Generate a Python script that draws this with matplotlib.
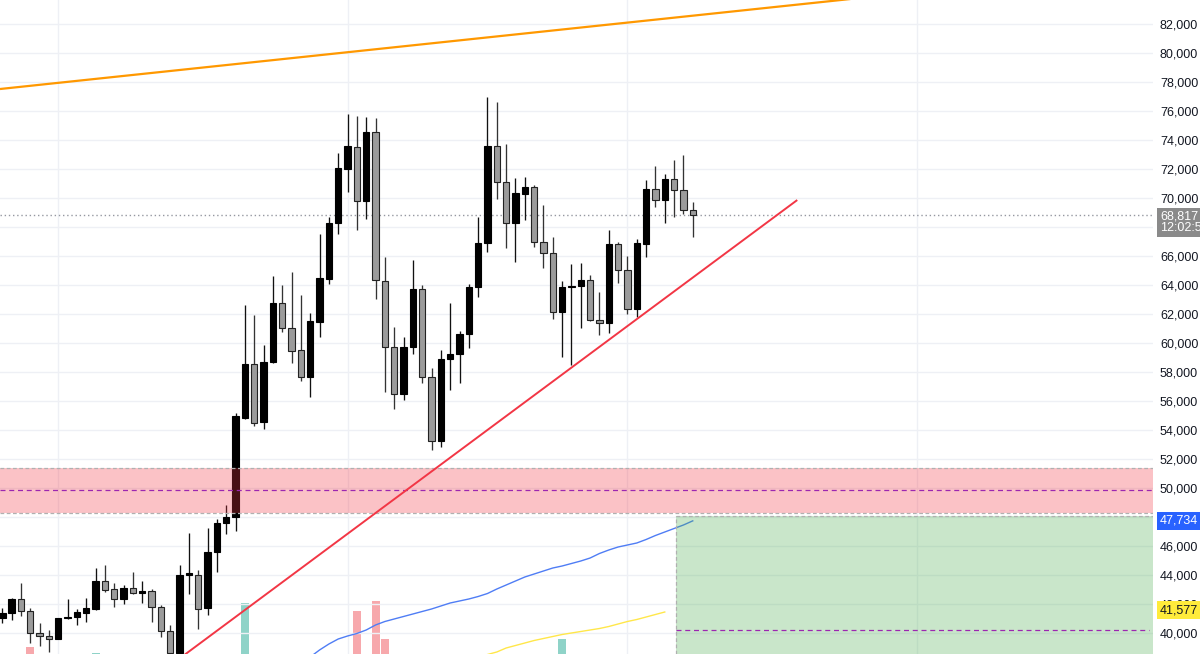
import matplotlib
matplotlib.use("Agg")
import matplotlib.pyplot as plt
import matplotlib.transforms as mtransforms
import numpy as np

# ---------------- data ----------------
opens = [41030, 41380, 42340, 41520, 40000, 39790, 39590, 41030, 41100, 41380,
         41660, 43590, 43030, 42340, 43100, 42760, 42900, 41790, 40140, 38600,
         44000, 44000, 41720, 45590, 47590, 48000, 54830, 58550, 54550, 58690,
         62760, 61030, 59520, 57660, 61450, 64410, 68280, 72000, 73520, 69790,
         74550, 64280, 59720, 56480, 59720, 63720, 57660, 53240, 58900, 59240,
         60620, 63860, 66900, 73590, 71100, 68280, 70280, 70760, 66970, 66210,
         62140, 63860, 63930, 64340, 61590, 61380, 66830, 65030, 62340, 66830,
         70620, 69860, 71310, 70550, 69170]
highs = [41720, 42410, 43450, 41720, 40690, 40200, 41040, 42340, 41650, 42410,
         44480, 44690, 43450, 43310, 44200, 43590, 43030, 41930, 40550, 44690,
         46900, 44340, 47240, 47860, 48830, 55170, 62620, 61930, 59860, 64620,
         64000, 64900, 63310, 62070, 67520, 68690, 73100, 75790, 75660, 75590,
         75520, 65930, 61100, 60440, 65720, 64000, 58280, 59520, 62760, 60830,
         64070, 68690, 76970, 76620, 73720, 71380, 71450, 70900, 69520, 67310,
         64280, 65450, 65520, 64690, 63520, 67790, 66970, 66000, 67170, 71240,
         72210, 71660, 72620, 72970, 69720]
lows = [40690, 40900, 41170, 39310, 39100, 38700, 39560, 40960, 40550, 40760,
        41600, 42830, 41790, 42000, 42690, 42070, 40760, 39720, 38400, 38300,
        42690, 40280, 41240, 44200, 46830, 47030, 54760, 54280, 54070, 58620,
        60760, 58620, 57380, 56280, 60410, 64070, 67520, 70410, 67790, 68550,
        63030, 56620, 55450, 56070, 59240, 57240, 52620, 52830, 56760, 57240,
        59660, 63170, 66280, 69930, 66550, 65590, 68480, 66620, 65170, 61660,
        59030, 58480, 61030, 61500, 60550, 60690, 64140, 62000, 61790, 65930,
        69400, 68280, 68690, 68900, 67310]
closes = [41380, 42340, 41520, 40000, 39790, 39580, 41030, 41120, 41450, 41720,
          43590, 42960, 42340, 43100, 42760, 42900, 41790, 40140, 38620, 44000,
          44140, 41660, 45590, 47590, 48000, 54970, 58550, 54480, 58690, 62760,
          61030, 59450, 57660, 61520, 64480, 68280, 72070, 73590, 69790, 74550,
          64340, 59720, 56480, 59720, 63720, 57660, 53240, 58900, 59240, 60620,
          63860, 66900, 73590, 71100, 68280, 70340, 70760, 66970, 66210, 62140,
          63860, 63930, 64340, 61590, 61380, 66830, 65030, 62340, 66900, 70620,
          69860, 71310, 70550, 69170, 68817]
volumes = [70, 75, 80, 107, 72, 68, 66, 60, 58, 64,
           101, 70, 66, 62, 60, 58, 74, 82, 90, 96,
           85, 78, 92, 88, 94, 98, 151, 96, 92, 94,
           80, 88, 84, 86, 92, 95, 97, 98, 143, 96,
           153, 115, 98, 86, 90, 92, 96, 94, 80, 72,
           78, 84, 98, 95, 86, 80, 70, 84, 78, 92,
           115, 88, 70, 74, 66, 90, 76, 78, 86, 92,
           74, 72, 70, 76, 60]

ma_blue_start = 33
ma_blue = [38345, 38828, 39241, 39586, 39793, 39966, 40207, 40552, 40793, 40966,
           41138, 41310, 41483, 41655, 41862, 42069, 42207, 42345, 42517, 42724,
           43034, 43310, 43586, 43862, 44069, 44276, 44483, 44621, 44793, 44966,
           45172, 45483, 45724, 45931, 46069, 46207, 46448, 46724, 46965, 47207,
           47448, 47734]
ma_yellow_start = 52
ma_yellow = [38517, 38690, 38966, 39138, 39310, 39483, 39621, 39759, 39897, 40000,
             40103, 40207, 40310, 40448, 40621, 40793, 40931, 41103, 41276, 41448]

price_ticks = list(range(40000, 84000, 2000))
month_lines = [6, 37, 67, 98]

orange_x = [-0.25, 90.9]
orange_y = [77517, 83724]
red_x = [18.2, 85.2]
red_y = [37862, 69860]

zone_low, zone_high, zone_mid = 48254, 51379, 49862
green_left, green_top, green_mid = 72.2, 48070, 40207

last_price = 68817
blue_label = 47734
yellow_label = 41577
countdown = "12:02:58"

# ---------------- figure ----------------
W, H = 1200, 654
fig = plt.figure(figsize=(W / 100, H / 100), dpi=100, facecolor="white")
plot_w = 1153 / W
ax2 = fig.add_axes([0, 0, plot_w, 1])
ax = fig.add_axes([0, 0, plot_w, 1], sharex=ax2)
ax.patch.set_visible(False)
ax2.set_facecolor("white")

xlim = (-0.25, 123.33)
ylim = (38551.7, 83655.2)
ax.set_xlim(*xlim)
ax.set_ylim(*ylim)

for s in ax.spines.values():
    s.set_visible(False)
for s in ax2.spines.values():
    s.set_visible(False)
ax2.set_yticks([])
ax2.set_xticks([])
ax2.set_ylim(100, 754)

# grid
ax.set_yticks(price_ticks)
ax.yaxis.tick_right()
ax.yaxis.set_major_formatter(matplotlib.ticker.StrMethodFormatter("{x:,.0f}"))
ax.tick_params(axis="y", length=0, pad=5, labelsize=9, labelcolor="#131722")
for lab in ax.get_yticklabels():
    lab.set_fontfamily("Liberation Sans")
ax.set_xticks([])
for p in price_ticks:
    ax.axhline(p, color="#eef0f5", lw=1, zorder=0)
for m in month_lines:
    ax.axvline(m, color="#eef0f5", lw=1, zorder=0)

# volume
x = np.arange(len(opens))
vcol = ["#8fd3c8" if c >= o else "#f7a8ac" for o, c in zip(opens, closes)]
ax2.bar(x, volumes, width=0.86, color=vcol, bottom=0)

# candles
up = [c >= o for o, c in zip(opens, closes)]
wick_col = ["#111111" if u else "#333333" for u in up]
ax.vlines(x, lows, highs, colors=wick_col, lw=0.95, zorder=3)
bottoms = [min(o, c) for o, c in zip(opens, closes)]
heights = [max(abs(c - o), 60) for o, c in zip(opens, closes)]
fills = ["#000000" if u else "#9b9b9b" for u in up]
edges = ["#000000" if u else "#222222" for u in up]
ax.bar(x, heights, bottom=bottoms, width=0.68, color=fills, edgecolor=edges,
       linewidth=0.8, zorder=4)

# moving averages
ax.plot(np.arange(ma_blue_start, ma_blue_start + len(ma_blue)), ma_blue,
        color="#4f7df5", lw=1.0, zorder=5)
ax.plot(np.arange(ma_yellow_start, ma_yellow_start + len(ma_yellow)), ma_yellow,
        color="#ffe74a", lw=1.0, zorder=5)

# pink zone
ax.axhspan(zone_low, zone_high, color="#f23645", alpha=0.3, lw=0, zorder=6)
for yv in (zone_low, zone_high):
    ax.axhline(yv, color="#b0b0b0", lw=0.9, ls=(0, (3, 2)), zorder=6)
ax.axhline(zone_mid, color="#9c27b0", lw=0.9, ls=(0, (4, 3)), zorder=6)

# green box
ax.fill_between([green_left, xlim[1]], [ylim[0] - 2000] * 2, [green_top] * 2,
                color="#4caf50", alpha=0.3, lw=0, zorder=6)
ax.plot([green_left, xlim[1]], [green_top, green_top], color="#b0b0b0", lw=0.9,
        ls=(0, (3, 2)), zorder=6)
ax.plot([green_left, green_left], [ylim[0], green_top], color="#b0b0b0", lw=0.9,
        ls=(0, (3, 2)), zorder=6)
ax.plot([green_left, xlim[1] - 0.4], [green_mid, green_mid], color="#9c27b0",
        lw=0.9, ls=(0, (4, 3)), zorder=6)

# trend lines
ax.plot(orange_x, orange_y, color="#ff9800", lw=1.6, zorder=7, solid_capstyle="butt")
ax.plot(red_x, red_y, color="#f23645", lw=1.4, zorder=7, solid_capstyle="butt")

# last price dotted line
ax.axhline(last_price, color="#9598a1", lw=1, ls=(0, (1, 2)), zorder=2)

# price labels on axis
trans = mtransforms.blended_transform_factory(ax.transAxes, ax.transData)
lx = 1 + 7 / 1153
ax.text(lx, blue_label, f"{blue_label:,}", transform=trans, ha="left", va="center",
        fontsize=9, family="Liberation Sans", color="white", clip_on=False, zorder=10,
        bbox=dict(boxstyle="square,pad=0.22", fc="#2962ff", ec="none"))
ax.text(lx, yellow_label, f"{yellow_label:,}", transform=trans, ha="left", va="center",
        fontsize=9, family="Liberation Sans", color="#131722", clip_on=False, zorder=10,
        bbox=dict(boxstyle="square,pad=0.22", fc="#ffeb3b", ec="none"))
ax.text(lx, last_price - 480, f"{last_price:,}\n{countdown}", transform=trans,
        ha="left", va="center", fontsize=9, family="Liberation Sans", color="white",
        linespacing=0.95, clip_on=False, zorder=10,
        bbox=dict(boxstyle="square,pad=0.22", fc="#8a8a8a", ec="none"))

fig.savefig("out.png", dpi=100, facecolor="white")
